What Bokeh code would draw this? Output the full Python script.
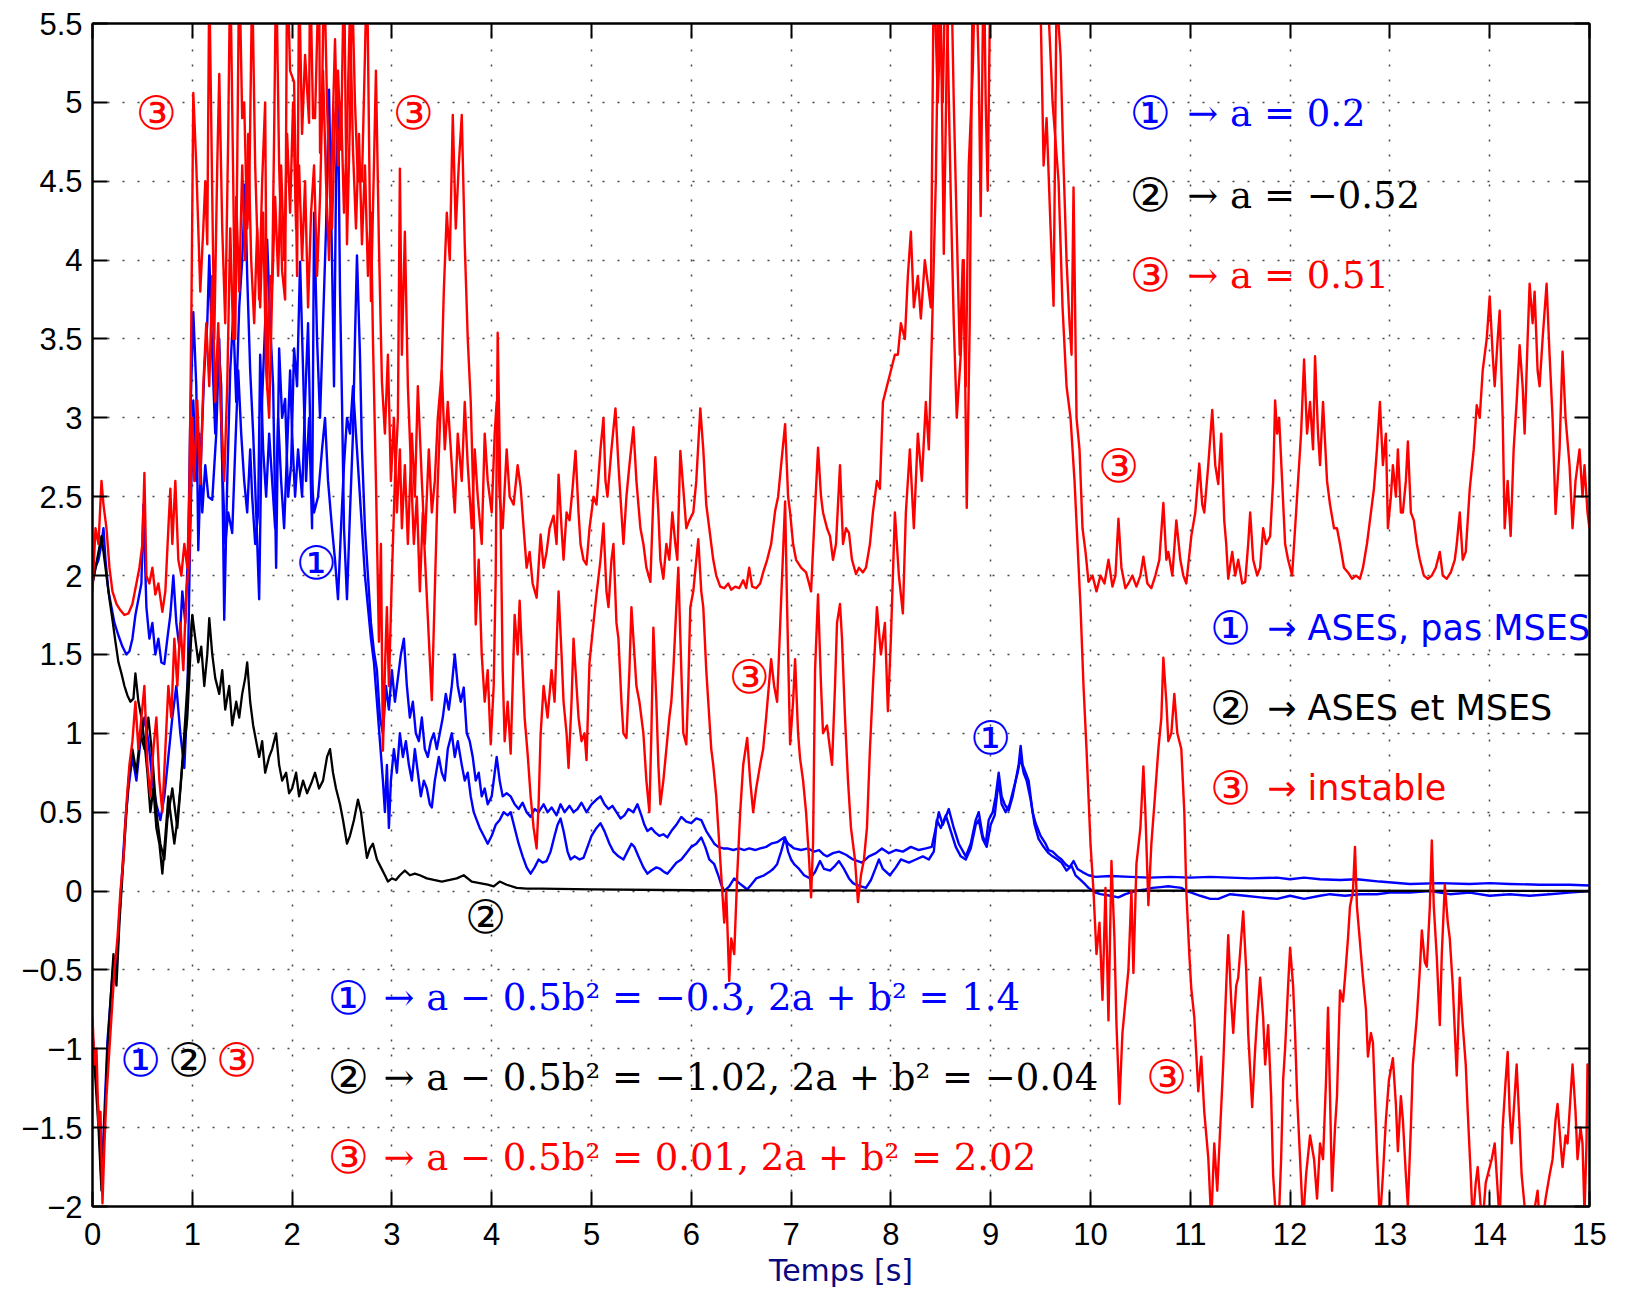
from bokeh.plotting import figure
from bokeh.models import Range1d, LinearAxis, Label, ColumnDataSource, FixedTicker
from bokeh.embed import file_html
from bokeh.resources import INLINE

# ---------------- data ----------------
x_ticks = [0, 1, 2, 3, 4, 5, 6, 7, 8, 9, 10, 11, 12, 13, 14, 15]
x_tick_labels = ["0", "1", "2", "3", "4", "5", "6", "7", "8", "9", "10", "11", "12", "13", "14", "15"]
y_ticks = [-2, -1.5, -1, -0.5, 0, 0.5, 1, 1.5, 2, 2.5, 3, 3.5, 4, 4.5, 5, 5.5]
y_tick_labels = ["\u22122", "\u22121.5", "\u22121", "\u22120.5", "0", "0.5", "1", "1.5", "2", "2.5",
                 "3", "3.5", "4", "4.5", "5", "5.5"]

# series 1 (blue), trajectory starting high
blue_a = [(0.00,1.95),(0.03,2.05),(0.06,2.1),(0.09,2.2),(0.11,2.3),(0.13,2.1),(0.16,1.9),(0.19,1.8),(0.22,1.7),
(0.26,1.62),(0.30,1.55),(0.34,1.5),(0.37,1.52),(0.40,1.6),(0.43,1.75),(0.46,1.85),(0.49,1.95),(0.51,2.45),(0.54,1.8),
(0.57,1.6),(0.60,1.7),(0.63,1.5),(0.66,1.6),(0.69,1.45),(0.72,1.44),(0.75,1.6),(0.78,1.75),(0.81,2.0),(0.84,1.7),
(0.87,1.55),(0.90,1.9),(0.93,1.7),(0.96,2.2),(0.98,3.0),(1.01,3.67),(1.04,3.2),(1.06,2.16),(1.09,2.8),(1.12,3.3),
(1.15,3.6),(1.17,4.03),(1.20,3.4),(1.23,2.9),(1.26,3.5),(1.29,3.2),(1.32,1.72),(1.35,2.6),(1.38,3.3),(1.41,3.65),
(1.44,3.1),(1.47,3.7),(1.50,4.0),(1.53,4.48),(1.55,3.9),(1.58,3.3),(1.61,2.9),(1.64,2.4),(1.67,1.85),(1.70,3.12),
(1.73,3.6),(1.75,4.13),(1.78,3.6),(1.81,3.2),(1.84,2.05),(1.87,3.44),(1.90,3.0),(1.93,3.12),(1.96,2.5),(1.99,2.7),
(2.02,3.44),(2.05,3.2),(2.08,3.99),(2.11,3.3),(2.14,2.6),(2.17,3.0),(2.20,2.3),(2.22,4.3),(2.25,3.5),(2.28,3.0),
(2.31,3.6),(2.34,4.2),(2.37,5.08),(2.40,4.0),(2.42,3.2),(2.44,4.5),(2.46,5.04),(2.48,3.8),(2.50,3.1),(2.52,2.3),
(2.55,1.85),(2.58,2.4),(2.61,2.9),(2.63,3.5),(2.65,4.03),(2.68,3.4),(2.70,2.8),(2.73,2.3),(2.76,2.0),(2.79,1.7),
(2.82,1.52),(2.85,1.4),(2.88,1.1),(2.91,1.0),(2.94,1.3),(2.97,1.15),(3.00,1.4),(3.03,1.2),(3.06,1.35),(3.09,1.5),
(3.12,1.6),(3.15,1.3),(3.18,1.1),(3.21,1.2),(3.24,1.0),(3.27,0.95),(3.30,1.1),(3.33,0.9),(3.36,0.85),(3.39,0.95),
(3.42,1.0),(3.45,0.9),(3.48,1.0),(3.51,1.1),(3.54,1.25),(3.57,1.15),(3.60,1.3),(3.63,1.5),(3.66,1.3),(3.69,1.2),
(3.72,1.29),(3.75,1.0),(3.78,0.95),(3.81,0.85),(3.84,0.7),(3.87,0.75),(3.90,0.6),(3.93,0.65),(3.96,0.55),(4.00,0.6),
(4.03,0.75),(4.05,0.85),(4.08,0.7),(4.11,0.6),(4.15,0.62),(4.19,0.6),(4.23,0.55),(4.27,0.52),(4.31,0.56),(4.35,0.5),
(4.39,0.47),(4.43,0.52),(4.47,0.5),(4.52,0.55),(4.56,0.5),(4.60,0.53),(4.65,0.48),(4.69,0.55),(4.73,0.5),(4.78,0.54),
(4.82,0.5),(4.86,0.52),(4.90,0.56),(4.95,0.5),(5.00,0.55),(5.05,0.58),(5.09,0.6),(5.13,0.55),(5.17,0.52),(5.21,0.54),
(5.25,0.5),(5.29,0.46),(5.33,0.48),(5.37,0.52),(5.42,0.5),(5.46,0.55),(5.50,0.48),(5.53,0.42),(5.56,0.38),(5.60,0.4),
(5.64,0.37),(5.68,0.35),(5.72,0.36),(5.76,0.34),(5.80,0.38),(5.85,0.42),(5.90,0.47),(5.95,0.44),(6.00,0.43),(6.05,0.46),
(6.10,0.45),(6.15,0.38),(6.20,0.33),(6.23,0.3),(6.27,0.28),(6.32,0.27),(6.36,0.27),(6.42,0.26),(6.48,0.27),(6.53,0.26),
(6.58,0.27),(6.64,0.26),(6.69,0.27),(6.75,0.28),(6.80,0.3),(6.86,0.31),(6.93,0.34),(6.97,0.3),(7.03,0.27),(7.10,0.26),
(7.17,0.27),(7.23,0.25),(7.28,0.26),(7.33,0.23),(7.36,0.22),(7.42,0.24),(7.48,0.25),(7.55,0.23),(7.62,0.2),(7.71,0.18),
(7.78,0.22),(7.85,0.24),(7.91,0.27),(7.98,0.24),(8.05,0.26),(8.12,0.25),(8.20,0.28),(8.28,0.26),(8.35,0.27),(8.41,0.28),
(8.45,0.4),(8.48,0.5),(8.52,0.42),(8.58,0.52),(8.63,0.4),(8.68,0.3),(8.75,0.22),(8.80,0.3),(8.85,0.45),(8.88,0.5),
(8.92,0.35),(8.95,0.3),(8.98,0.45),(9.02,0.5),(9.05,0.6),(9.08,0.75),(9.11,0.6),(9.14,0.55),(9.18,0.51),(9.22,0.6),
(9.25,0.7),(9.28,0.8),(9.30,0.92),(9.32,0.8),(9.35,0.75),(9.38,0.7),(9.42,0.5),(9.45,0.43),(9.50,0.35),(9.55,0.3),
(9.58,0.26),(9.62,0.25),(9.67,0.22),(9.71,0.2),(9.75,0.17),(9.79,0.15),(9.83,0.19),(9.87,0.14),(9.92,0.12),(9.98,0.1),
(10.05,0.09),(10.2,0.095),(10.4,0.09),(10.6,0.085),(10.8,0.09),(11.0,0.085),(11.2,0.09),(11.4,0.085),(11.6,0.08),
(11.87,0.085),(12.0,0.075),(12.14,0.085),(12.3,0.075),(12.5,0.07),(12.67,0.075),(12.9,0.06),(13.2,0.045),(13.5,0.05),
(13.8,0.045),(14.0,0.05),(14.2,0.045),(14.5,0.04),(14.8,0.04),(15.0,0.035)]

# series 1 (blue), trajectory starting low
blue_b = [(0.00,-0.9),(0.03,-1.15),(0.06,-1.4),(0.09,-1.85),(0.12,-1.4),(0.15,-0.95),(0.18,-0.7),(0.21,-0.45),
(0.24,-0.5),(0.27,-0.15),(0.30,0.15),(0.33,0.45),(0.36,0.65),(0.40,0.85),(0.44,0.7),(0.48,0.95),(0.52,1.1),(0.56,0.95),
(0.60,0.7),(0.64,0.55),(0.68,0.45),(0.72,0.6),(0.76,0.85),(0.80,1.1),(0.84,1.3),(0.88,1.0),(0.92,0.78),(0.95,1.2),
(0.98,2.3),(1.01,3.11),(1.04,2.6),(1.07,2.9),(1.10,2.4),(1.13,2.7),(1.16,2.5),(1.20,2.48),(1.24,2.9),(1.27,3.5),
(1.30,2.7),(1.33,2.2),(1.36,2.4),(1.40,2.27),(1.43,2.8),(1.46,3.3),(1.49,2.9),(1.52,2.6),(1.55,2.4),(1.58,2.8),
(1.60,2.5),(1.63,2.2),(1.66,2.4),(1.68,3.4),(1.71,2.8),(1.74,2.5),(1.77,2.9),(1.80,2.6),(1.83,2.3),(1.86,3.0),
(1.89,2.6),(1.92,2.3),(1.95,2.8),(1.98,3.3),(2.00,2.9),(2.03,2.5),(2.06,2.8),(2.10,2.5),(2.13,3.1),(2.16,3.6),
(2.19,2.7),(2.22,2.4),(2.26,2.5),(2.30,2.8),(2.33,3.0),(2.36,2.6),(2.40,2.3),(2.43,2.1),(2.46,1.85),(2.49,2.3),
(2.52,2.7),(2.55,3.0),(2.58,2.9),(2.61,3.2),(2.64,2.9),(2.67,2.6),(2.70,2.3),(2.73,2.0),(2.76,1.8),(2.79,1.6),
(2.82,1.45),(2.85,1.2),(2.88,0.95),(2.91,0.7),(2.93,0.5),(2.95,0.8),(2.97,0.4),(2.99,0.7),(3.02,0.9),(3.05,0.75),
(3.08,1.0),(3.11,0.85),(3.14,0.95),(3.17,0.8),(3.20,0.7),(3.23,0.9),(3.26,0.75),(3.29,0.6),(3.32,0.7),(3.35,0.65),
(3.38,0.55),(3.40,0.53),(3.43,0.7),(3.47,0.85),(3.50,0.75),(3.53,0.7),(3.56,0.9),(3.60,1.0),(3.63,0.85),(3.66,0.95),
(3.70,0.8),(3.73,0.7),(3.76,0.75),(3.79,0.6),(3.82,0.5),(3.85,0.45),(3.88,0.4),(3.92,0.35),(3.96,0.3),(4.00,0.35),
(4.04,0.42),(4.08,0.45),(4.12,0.5),(4.16,0.48),(4.19,0.5),(4.23,0.4),(4.27,0.3),(4.31,0.22),(4.35,0.15),(4.39,0.11),
(4.43,0.15),(4.47,0.2),(4.51,0.18),(4.55,0.19),(4.59,0.25),(4.63,0.35),(4.66,0.42),(4.69,0.46),(4.72,0.38),(4.76,0.25),
(4.79,0.2),(4.83,0.22),(4.88,0.2),(4.92,0.21),(4.96,0.28),(5.00,0.35),(5.05,0.4),(5.09,0.43),(5.13,0.38),(5.18,0.3),
(5.22,0.25),(5.27,0.22),(5.32,0.2),(5.36,0.25),(5.40,0.3),(5.43,0.28),(5.47,0.22),(5.52,0.15),(5.56,0.11),(5.60,0.13),
(5.65,0.15),(5.69,0.14),(5.73,0.12),(5.76,0.11),(5.80,0.14),(5.85,0.18),(5.90,0.2),(5.95,0.24),(6.00,0.28),(6.05,0.3),
(6.10,0.34),(6.14,0.28),(6.18,0.2),(6.23,0.17),(6.27,0.1),(6.30,0.04),(6.33,0.0),(6.38,0.03),(6.43,0.08),(6.48,0.05),
(6.52,0.03),(6.56,0.01),(6.60,0.04),(6.65,0.08),(6.69,0.09),(6.73,0.1),(6.78,0.12),(6.82,0.14),(6.86,0.17),(6.90,0.25),
(6.94,0.34),(6.97,0.25),(7.00,0.2),(7.03,0.17),(7.08,0.14),(7.13,0.1),(7.19,0.08),(7.24,0.12),(7.29,0.19),(7.33,0.14),
(7.39,0.13),(7.44,0.16),(7.48,0.19),(7.53,0.14),(7.58,0.08),(7.62,0.05),(7.65,0.04),(7.70,0.03),(7.75,0.02),(7.80,0.07),
(7.85,0.15),(7.88,0.2),(7.92,0.14),(7.99,0.1),(8.05,0.15),(8.10,0.2),(8.18,0.18),(8.25,0.2),(8.32,0.22),(8.38,0.2),
(8.43,0.25),(8.46,0.45),(8.50,0.4),(8.55,0.48),(8.60,0.38),(8.65,0.28),(8.70,0.22),(8.75,0.2),(8.80,0.27),(8.85,0.42),
(8.88,0.45),(8.92,0.33),(8.96,0.28),(9.00,0.42),(9.04,0.48),(9.08,0.7),(9.11,0.55),(9.15,0.5),(9.19,0.55),(9.23,0.65),
(9.27,0.75),(9.30,0.85),(9.33,0.75),(9.36,0.7),(9.40,0.58),(9.44,0.42),(9.48,0.33),(9.53,0.28),(9.58,0.24),(9.62,0.22),
(9.67,0.2),(9.71,0.18),(9.76,0.13),(9.81,0.16),(9.85,0.1),(9.90,0.07),(9.95,0.04),(9.98,0.02),(10.05,-0.01),(10.1,-0.02),
(10.2,-0.03),(10.28,-0.04),(10.35,-0.02),(10.45,0.0),(10.55,0.01),(10.62,0.02),(10.7,0.025),(10.78,0.03),(10.85,0.025),
(10.91,0.02),(10.96,0.0),(11.01,-0.01),(11.1,-0.03),(11.2,-0.05),(11.28,-0.05),(11.4,-0.02),(11.55,-0.03),(11.7,-0.04),
(11.87,-0.05),(12.0,-0.03),(12.14,-0.05),(12.3,-0.03),(12.4,-0.02),(12.55,-0.03),(12.7,-0.02),(12.87,-0.02),(13.0,-0.01),
(13.2,-0.01),(13.4,0.0),(13.6,-0.02),(13.8,-0.01),(14.0,-0.03),(14.2,-0.02),(14.4,-0.03),(14.6,-0.02),(14.8,-0.01),(15.0,0.0)]

# series 2 (black), trajectory starting high
black_a = [(0.00,1.95),(0.03,2.05),(0.06,2.15),(0.09,2.25),(0.11,2.15),(0.14,2.0),(0.17,1.85),(0.20,1.72),(0.23,1.58),
(0.26,1.45),(0.29,1.38),(0.32,1.3),(0.35,1.24),(0.38,1.2),(0.41,1.22),(0.43,1.38),(0.46,1.2),(0.49,1.1),(0.52,0.95),
(0.55,0.75),(0.58,0.5),(0.61,0.65),(0.64,0.4),(0.67,0.3),(0.70,0.11),(0.73,0.35),(0.76,0.6),(0.79,0.45),(0.82,0.3),
(0.85,0.45),(0.88,0.65),(0.91,0.9),(0.94,1.2),(0.97,1.5),(1.00,1.75),(1.03,1.6),(1.06,1.45),(1.09,1.55),(1.12,1.3),
(1.15,1.5),(1.17,1.73),(1.20,1.5),(1.23,1.35),(1.27,1.25),(1.30,1.4),(1.33,1.15),(1.37,1.3),(1.40,1.05),(1.44,1.2),
(1.47,1.1),(1.50,1.25),(1.53,1.35),(1.55,1.45),(1.58,1.2),(1.61,1.05),(1.64,0.95),(1.67,0.85),(1.70,0.95),(1.73,0.75),
(1.77,0.85),(1.80,0.9),(1.84,1.0),(1.87,0.8),(1.90,0.7),(1.94,0.75),(1.97,0.62),(2.00,0.65),(2.04,0.75),(2.07,0.6),
(2.11,0.7),(2.15,0.62),(2.19,0.68),(2.23,0.75),(2.27,0.65),(2.31,0.7),(2.35,0.85),(2.38,0.9),(2.41,0.75),(2.44,0.65),
(2.48,0.55),(2.51,0.45),(2.55,0.3),(2.58,0.35),(2.62,0.45),(2.66,0.58),(2.69,0.5),(2.72,0.35),(2.75,0.21),(2.78,0.27),
(2.81,0.3),(2.85,0.2),(2.89,0.15),(2.93,0.1),(2.96,0.06),(3.00,0.08),(3.04,0.07),(3.08,0.1),(3.13,0.13),(3.18,0.1),
(3.23,0.11),(3.28,0.1),(3.35,0.08),(3.42,0.07),(3.50,0.06),(3.58,0.07),(3.65,0.08),(3.72,0.1),(3.80,0.06),(3.88,0.05),
(3.96,0.04),(4.02,0.03),(4.08,0.06),(4.15,0.04),(4.25,0.02),(4.35,0.015),(4.5,0.015),(5.0,0.01),(6.0,0.005),(8.0,0.003),
(15.0,0.001)]

# series 2 (black), trajectory starting low
black_b = [(0.00,-0.95),(0.03,-1.2),(0.06,-1.5),(0.09,-1.9),(0.12,-1.5),(0.15,-1.0),(0.18,-0.7),(0.21,-0.4),(0.24,-0.6),
(0.27,-0.2),(0.30,0.1),(0.33,0.4),(0.36,0.7),(0.40,0.9),(0.44,0.75),(0.48,1.0),(0.52,0.9),(0.56,1.1),(0.60,0.85),
(0.64,0.5),(0.68,0.3),(0.72,0.2),(0.75,0.45),(0.80,0.65),(0.85,0.4),(0.90,0.8),(0.95,1.1),(1.00,1.75)]

# series 3 (red), trajectory starting high
red_a = [(0.00,1.90),(0.03,2.30),(0.06,2.20),(0.09,2.60),(0.11,2.45),(0.14,2.30),(0.17,2.05),(0.20,1.90),(0.24,1.82),
(0.28,1.78),(0.32,1.75),(0.36,1.76),(0.40,1.82),(0.44,1.95),(0.47,2.05),(0.50,2.20),(0.52,2.65),(0.54,2.00),(0.57,1.95),
(0.60,2.05),(0.63,1.88),(0.66,1.95),(0.70,1.77),(0.73,1.90),(0.76,2.30),(0.78,2.55),(0.80,2.20),(0.83,2.60),(0.86,2.10),
(0.89,2.00),(0.92,2.20),(0.95,2.05),(0.97,2.50),(0.99,3.60),(1.01,5.06),(1.04,4.60),(1.08,3.80),(1.11,4.20),(1.13,4.50),
(1.15,4.10),(1.17,5.8),(1.20,4.4),(1.22,3.50),(1.25,4.6),(1.27,5.18),(1.30,4.2),(1.33,3.6),(1.36,4.8),(1.38,5.9),
(1.41,4.5),(1.43,3.5),(1.45,4.6),(1.47,5.9),(1.50,4.9),(1.52,5.0),(1.55,4.2),(1.57,4.4),(1.60,5.8),(1.63,4.6),
(1.67,3.75),(1.70,4.5),(1.73,5.0),(1.75,3.18),(1.78,3.9),(1.80,3.85),(1.82,4.8),(1.84,5.9),(1.87,4.6),(1.90,3.93),
(1.93,3.75),(1.95,5.9),(1.98,5.2),(2.02,5.13),(2.05,3.9),(2.07,5.8),(2.10,4.8),(2.13,5.3),(2.17,4.87),(2.18,5.9),
(2.21,4.9),(2.23,4.9),(2.25,5.4),(2.27,5.9),(2.28,4.68),(2.30,5.0),(2.32,5.9),(2.35,5.0),(2.38,4.4),(2.40,4.2),
(2.43,4.9),(2.46,5.2),(2.49,4.7),(2.52,5.9),(2.55,4.1),(2.58,4.9),(2.60,5.8),(2.63,5.0),(2.66,4.5),(2.70,4.5),
(2.73,5.3),(2.75,5.9),(2.79,3.74),(2.82,4.6),(2.84,5.2),(2.87,4.1),(2.90,3.23),(2.93,2.9),(2.96,3.4),(2.99,2.6),
(3.02,3.0),(3.05,2.4),(3.08,2.8),(3.10,2.3),(3.13,2.7),(3.16,2.2),(3.20,2.9),(3.23,2.5),(3.26,3.2),(3.30,2.6),
(3.33,2.2),(3.37,2.8),(3.40,2.4),(3.43,2.6),(3.46,3.0),(3.50,3.3),(3.53,2.8),(3.56,3.1),(3.60,2.7),(3.63,2.4),
(3.66,2.9),(3.70,2.6),(3.73,3.1),(3.76,2.7),(3.80,2.3),(3.83,2.8),(3.86,2.5),(3.90,2.2),(3.93,2.9),(3.96,2.6),
(4.00,2.4),(4.03,2.9),(4.05,3.1),(4.08,2.5),(4.11,2.3),(4.15,2.8),(4.18,2.5),(4.22,2.45),(4.26,2.7),(4.29,2.56),
(4.32,2.3),(4.35,2.05),(4.38,2.15),(4.41,1.95),(4.45,1.86),(4.49,2.26),(4.52,2.05),(4.55,2.15),(4.58,2.3),(4.62,2.38),
(4.65,2.2),(4.67,2.64),(4.70,2.3),(4.72,2.1),(4.75,2.4),(4.78,2.35),(4.81,2.55),(4.84,2.79),(4.87,2.4),(4.89,2.2),
(4.92,2.1),(4.95,2.07),(4.98,2.3),(5.02,2.5),(5.05,2.45),(5.09,2.8),(5.12,3.0),(5.14,2.6),(5.16,2.5),(5.20,2.8),
(5.24,3.06),(5.27,2.7),(5.30,2.4),(5.32,2.2),(5.35,2.5),(5.38,2.7),(5.42,2.94),(5.45,2.6),(5.49,2.3),(5.52,2.2),
(5.55,2.05),(5.59,1.96),(5.62,2.5),(5.64,2.75),(5.67,2.4),(5.69,2.1),(5.72,1.98),(5.75,2.2),(5.78,2.1),(5.81,2.4),
(5.84,2.2),(5.86,2.1),(5.89,2.79),(5.92,2.55),(5.95,2.3),(5.98,2.35),(6.02,2.4),(6.05,2.6),(6.09,3.06),(6.12,2.8),
(6.15,2.45),(6.18,2.3),(6.22,2.1),(6.25,2.0),(6.29,1.93),(6.33,1.92),(6.37,1.95),(6.40,1.91),(6.44,1.93),(6.48,1.92),
(6.52,1.97),(6.55,1.92),(6.58,2.05),(6.61,1.93),(6.65,1.92),(6.69,1.95),(6.72,2.02),(6.76,2.1),(6.80,2.2),(6.84,2.41),
(6.87,2.5),(6.90,2.7),(6.94,2.96),(6.97,2.5),(6.99,2.4),(7.02,2.2),(7.05,2.1),(7.10,2.05),(7.15,2.02),(7.18,1.95),
(7.20,1.9),(7.23,2.3),(7.27,2.81),(7.30,2.5),(7.32,2.4),(7.36,2.3),(7.39,2.25),(7.42,2.1),(7.45,2.2),(7.49,2.7),
(7.52,2.2),(7.55,2.3),(7.58,2.27),(7.61,2.1),(7.65,2.01),(7.68,2.05),(7.72,2.02),(7.75,2.05),(7.79,2.2),(7.82,2.4),
(7.86,2.6),(7.89,2.55),(7.92,3.1),(7.96,3.2),(8.00,3.3),(8.04,3.4),(8.07,3.4),(8.10,3.6),(8.14,3.5),(8.17,3.9),
(8.20,4.18),(8.23,3.7),(8.27,3.9),(8.30,3.63),(8.34,4.0),(8.38,3.8),(8.40,3.7),(8.43,5.9),(8.47,5.0),(8.50,5.6),
(8.53,4.04),(8.56,5.3),(8.60,6.0),(8.63,5.0),(8.66,4.2),(8.69,3.4),(8.72,4.0),(8.75,3.2),(8.78,4.6),(8.82,5.2),
(8.85,6.0),(8.88,5.2),(8.90,4.28),(8.93,6.0),(8.95,5.0),(8.97,4.44),(9.00,6.0),(9.20,6.5),(9.45,6.2),(9.50,5.6),
(9.53,4.6),(9.56,4.9),(9.60,4.2),(9.63,3.71),(9.66,5.7),(9.70,5.3),(9.73,4.6),(9.76,4.0),(9.79,3.6),(9.81,3.4),
(9.83,4.46),(9.86,3.0),(9.89,2.8),(9.92,2.3),(9.95,2.15),(9.98,1.96),(10.02,2.0),(10.06,1.9),(10.10,2.0),(10.14,1.95),
(10.18,2.1),(10.22,1.93),(10.25,2.0),(10.28,2.36),(10.31,2.05),(10.35,1.92),(10.38,1.95),(10.42,2.0),(10.46,1.93),
(10.50,2.0),(10.53,2.12),(10.57,1.95),(10.61,1.92),(10.65,2.0),(10.69,2.1),(10.73,2.46),(10.76,2.1),(10.78,2.15),
(10.82,2.0),(10.86,2.35),(10.90,2.1),(10.93,2.0),(10.96,1.95),(11.01,2.25),(11.05,2.4),(11.09,2.71),(11.12,2.45),
(11.14,2.4),(11.18,2.7),(11.22,3.05),(11.25,2.7),(11.28,2.58),(11.31,2.9),(11.34,2.35),(11.36,2.2),(11.38,1.98),
(11.42,2.15),(11.45,2.0),(11.48,2.1),(11.52,1.95),(11.55,1.96),(11.58,2.2),(11.60,2.4),(11.63,2.1),(11.67,2.0),
(11.70,2.05),(11.73,2.3),(11.76,2.2),(11.80,2.25),(11.83,2.6),(11.85,3.11),(11.87,2.9),(11.89,3.0),(11.92,2.6),
(11.95,2.2),(11.98,2.1),(12.02,2.0),(12.05,2.3),(12.08,2.6),(12.11,2.9),(12.14,3.37),(12.17,2.9),(12.20,3.1),
(12.23,2.8),(12.25,3.39),(12.28,2.9),(12.30,2.7),(12.33,3.1),(12.37,2.6),(12.40,2.45),(12.44,2.3),(12.47,2.3),
(12.50,2.2),(12.54,2.05),(12.58,2.02),(12.62,1.98),(12.66,2.0),(12.70,1.98),(12.73,2.05),(12.77,2.2),(12.80,2.35),
(12.84,2.55),(12.87,2.8),(12.90,3.1),(12.93,2.7),(12.96,2.9),(12.98,2.3),(13.01,2.5),(13.03,2.7),(13.06,2.5),
(13.08,2.8),(13.11,2.4),(13.13,2.4),(13.16,2.6),(13.18,2.85),(13.21,2.4),(13.24,2.35),(13.27,2.2),(13.30,2.1),
(13.34,2.0),(13.38,1.98),(13.42,2.0),(13.46,2.05),(13.50,2.15),(13.53,2.0),(13.57,1.98),(13.61,2.02),(13.65,2.1),
(13.67,2.2),(13.70,2.4),(13.73,2.1),(13.76,2.15),(13.80,2.55),(13.84,2.8),(13.87,3.08),(13.90,3.0),(13.93,3.3),
(13.97,3.5),(14.00,3.77),(14.03,3.4),(14.05,3.2),(14.08,3.5),(14.10,3.68),(14.13,3.0),(14.15,2.3),(14.18,2.6),
(14.21,2.25),(14.24,2.8),(14.27,3.1),(14.30,3.46),(14.33,3.2),(14.35,2.9),(14.38,3.5),(14.40,3.85),(14.43,3.6),
(14.45,3.8),(14.48,3.3),(14.50,3.2),(14.53,3.5),(14.57,3.85),(14.60,3.4),(14.63,3.0),(14.66,2.39),(14.70,2.8),
(14.73,3.42),(14.76,3.0),(14.80,2.7),(14.83,2.3),(14.86,2.6),(14.90,2.8),(14.93,2.5),(14.95,2.7),(14.98,2.4),(15.00,2.3)]

# series 3 (red), trajectory starting low
red_b = [(0.00,-0.80),(0.02,-1.10),(0.04,-1.00),(0.06,-1.50),(0.08,-1.40),(0.10,-1.98),(0.12,-1.60),(0.14,-1.30),
(0.16,-1.10),(0.19,-0.80),(0.22,-0.50),(0.25,-0.30),(0.28,0.00),(0.31,0.20),(0.34,0.55),(0.37,0.80),(0.40,0.95),
(0.43,1.20),(0.46,0.90),(0.49,1.10),(0.52,1.30),(0.55,0.80),(0.58,0.60),(0.61,0.90),(0.64,1.10),(0.67,0.70),(0.70,0.50),
(0.73,0.90),(0.76,1.30),(0.79,1.10),(0.82,1.60),(0.85,1.30),(0.88,1.70),(0.91,1.40),(0.94,1.90),(0.97,2.10),(1.00,3.00),
(1.02,2.60),(1.05,3.11),(1.08,2.58),(1.11,3.20),(1.14,3.60),(1.17,3.20),(1.20,3.90),(1.23,3.10),(1.26,3.60),(1.29,3.00),
(1.32,2.60),(1.35,3.20),(1.38,4.20),(1.41,3.50),(1.44,4.40),(1.47,3.80),(1.50,4.60),(1.53,4.00),(1.56,4.80),(1.59,4.00),
(1.62,3.60),(1.65,4.20),(1.68,3.70),(1.71,4.30),(1.74,3.30),(1.77,3.00),(1.80,3.80),(1.83,4.40),(1.86,3.90),(1.89,4.60),
(1.92,4.00),(1.95,4.80),(1.98,4.30),(2.01,5.00),(2.04,4.20),(2.07,4.60),(2.10,4.00),(2.13,4.50),(2.16,3.70),(2.19,4.30),
(2.22,4.60),(2.25,3.90),(2.28,4.40),(2.31,5.20),(2.34,4.50),(2.37,4.00),(2.40,4.70),(2.43,5.40),(2.46,4.60),(2.49,5.00),
(2.52,4.30),(2.55,4.80),(2.58,5.60),(2.61,4.70),(2.64,4.20),(2.67,4.80),(2.70,4.10),(2.73,4.60),(2.76,3.90),(2.79,4.30),
(2.81,3.50),(2.84,2.60),(2.87,1.58),(2.89,2.20),(2.91,0.89),(2.93,1.40),(2.95,1.80),(2.97,1.30),(3.00,2.00),(3.03,2.60),
(3.06,3.00),(3.08,4.58),(3.10,3.40),(3.13,4.18),(3.16,3.20),(3.19,2.70),(3.22,2.20),(3.25,2.50),(3.28,1.90),(3.31,2.40),
(3.34,2.00),(3.37,1.60),(3.40,1.21),(3.43,1.90),(3.46,2.60),(3.49,3.10),(3.52,3.80),(3.55,4.30),(3.58,4.00),(3.61,4.92),
(3.64,4.20),(3.67,4.60),(3.70,4.92),(3.73,4.10),(3.76,3.50),(3.79,3.10),(3.82,2.40),(3.84,1.69),(3.87,2.10),(3.90,1.50),
(3.93,1.20),(3.96,1.40),(3.99,0.93),(4.02,1.30),(4.04,2.00),(4.06,3.54),(4.08,2.80),(4.11,1.40),(4.13,0.95),(4.16,1.20),
(4.19,0.87),(4.21,1.30),(4.23,1.75),(4.26,1.50),(4.28,1.84),(4.31,1.40),(4.33,1.10),(4.36,0.87),(4.39,0.60),(4.42,0.40),
(4.45,0.27),(4.47,0.55),(4.49,0.99),(4.52,1.30),(4.56,1.10),(4.60,1.40),(4.63,1.20),(4.67,1.90),(4.70,1.50),(4.72,1.20),
(4.75,1.00),(4.77,0.78),(4.80,1.20),(4.82,1.60),(4.85,1.30),(4.87,1.10),(4.90,0.95),(4.93,1.00),(4.95,0.83),(4.98,1.45),
(5.02,1.70),(5.05,1.88),(5.09,2.10),(5.12,2.33),(5.15,1.90),(5.17,1.80),(5.20,2.10),(5.22,2.20),(5.25,1.70),(5.27,1.60),
(5.30,1.20),(5.32,1.00),(5.35,0.97),(5.38,1.40),(5.40,1.80),(5.43,1.50),(5.45,1.30),(5.48,1.20),(5.52,1.00),(5.55,0.70),
(5.58,0.50),(5.60,1.00),(5.62,1.67),(5.65,1.20),(5.67,0.80),(5.69,0.55),(5.72,0.70),(5.75,0.90),(5.78,1.10),(5.80,1.20),
(5.82,1.40),(5.85,1.80),(5.87,2.05),(5.90,1.40),(5.92,1.00),(5.95,0.93),(5.97,1.30),(5.99,1.80),(6.02,1.90),(6.05,2.10),
(6.07,2.23),(6.10,1.90),(6.12,1.80),(6.15,1.40),(6.17,1.20),(6.20,0.90),(6.22,0.80),(6.25,0.60),(6.27,0.40),(6.30,0.10),
(6.33,-0.20),(6.35,0.00),(6.38,-0.57),(6.40,-0.30),(6.43,-0.40),(6.46,0.10),(6.49,0.50),(6.52,0.80),(6.56,0.97),(6.59,0.70),
(6.62,0.50),(6.65,0.65),(6.69,0.80),(6.72,0.90),(6.75,1.10),(6.80,1.47),(6.83,1.30),(6.86,1.20),(6.90,1.84),(6.94,2.47),
(6.96,1.80),(6.99,0.93),(7.02,1.20),(7.04,1.47),(7.07,1.00),(7.09,0.84),(7.12,0.70),(7.15,0.50),(7.18,0.20),(7.20,-0.04),
(7.22,0.30),(7.24,1.40),(7.27,1.88),(7.30,1.30),(7.32,1.00),(7.36,1.05),(7.39,0.90),(7.41,0.80),(7.44,1.30),(7.46,1.70),
(7.49,1.82),(7.51,1.60),(7.54,1.10),(7.57,0.70),(7.60,0.40),(7.64,0.20),(7.67,-0.07),(7.70,0.10),(7.73,0.20),(7.76,0.40),
(7.79,0.90),(7.82,1.30),(7.86,1.80),(7.90,1.50),(7.94,1.70),(7.97,1.14),(8.00,1.60),(8.04,2.40),(8.08,2.00),(8.12,1.76),
(8.15,2.40),(8.19,2.80),(8.23,2.30),(8.27,2.90),(8.31,2.60),(8.35,3.10),(8.38,2.80),(8.41,3.50),(8.45,4.50),(8.48,5.8),
(8.52,5.0),(8.55,6.0),(8.60,4.4),(8.63,3.6),(8.66,3.0),(8.70,3.4),(8.73,4.0),(8.76,2.43),(8.79,3.6),(8.82,5.9),(8.86,6.2),
(9.00,6.5),(9.30,6.4),(9.55,6.0),(9.62,5.0),(9.68,4.5),(9.72,3.7),(9.76,3.2),(9.80,3.0),(9.84,2.6),(9.87,2.2),(9.90,1.8),
(9.93,1.3),(9.96,0.9),(9.98,0.6),(10.00,0.3),(10.03,0.0),(10.06,-0.40),(10.09,-0.20),(10.12,-0.69),(10.15,0.02),
(10.18,-0.82),(10.21,0.19),(10.24,-0.30),(10.26,-0.84),(10.29,-1.35),(10.32,-0.90),(10.35,-0.70),(10.38,-0.50),
(10.41,0.00),(10.43,-0.52),(10.46,0.17),(10.50,0.40),(10.53,0.79),(10.55,0.50),(10.58,-0.09),(10.61,0.30),(10.64,0.55),
(10.68,0.90),(10.71,1.10),(10.73,1.48),(10.76,1.20),(10.78,0.95),(10.81,1.00),(10.84,1.25),(10.87,1.00),(10.91,0.90),
(10.94,0.50),(10.96,0.00),(10.99,-0.40),(11.01,-0.62),(11.04,-0.80),(11.08,-1.27),(11.11,-1.05),(11.14,-1.40),
(11.18,-1.69),(11.21,-2.10),(11.24,-1.60),(11.27,-1.90),(11.30,-1.50),(11.33,-1.10),(11.36,-0.60),(11.38,-0.28),
(11.41,-0.70),(11.43,-0.90),(11.46,-0.60),(11.48,-0.55),(11.51,-0.30),(11.53,-0.13),(11.56,-0.50),(11.58,-0.90),
(11.62,-1.37),(11.65,-1.00),(11.67,-0.80),(11.70,-0.55),(11.73,-0.80),(11.75,-1.10),(11.78,-0.85),(11.81,-1.30),
(11.83,-1.80),(11.86,-2.10),(11.88,-2.20),(11.91,-1.70),(11.93,-1.20),(11.95,-1.00),(11.98,-0.60),(12.00,-0.36),
(12.03,-0.60),(12.05,-0.90),(12.07,-1.30),(12.10,-1.70),(12.13,-2.10),(12.16,-1.80),(12.20,-1.55),(12.24,-1.70),
(12.27,-1.95),(12.30,-1.60),(12.33,-1.70),(12.36,-1.20),(12.38,-0.74),(12.40,-1.30),(12.42,-1.90),(12.45,-1.50),
(12.47,-1.30),(12.50,-0.63),(12.53,-0.70),(12.55,-0.55),(12.58,-0.30),(12.60,-0.10),(12.63,0.00),(12.65,0.28),
(12.67,-0.10),(12.69,-0.25),(12.71,-0.40),(12.73,-0.55),(12.76,-0.75),(12.78,-1.05),(12.81,-0.90),(12.83,-0.96),
(12.85,-1.30),(12.87,-1.65),(12.90,-2.10),(12.93,-1.80),(12.96,-1.45),(12.99,-1.20),(13.03,-1.06),(13.06,-1.35),
(13.08,-1.65),(13.11,-1.30),(13.13,-1.45),(13.16,-1.80),(13.18,-2.00),(13.21,-1.50),(13.23,-1.10),(13.27,-0.80),
(13.30,-0.50),(13.32,-0.25),(13.35,-0.45),(13.37,-0.48),(13.40,-0.10),(13.42,0.32),(13.44,-0.10),(13.47,-0.42),
(13.50,-0.85),(13.52,-0.40),(13.55,0.04),(13.58,-0.20),(13.60,-0.30),(13.63,-0.60),(13.67,-1.17),(13.70,-0.55),
(13.73,-0.85),(13.76,-1.10),(13.78,-1.40),(13.81,-1.80),(13.83,-2.10),(13.86,-1.85),(13.88,-1.75),(13.91,-2.00),
(13.93,-2.10),(13.96,-1.85),(13.98,-1.80),(14.02,-1.70),(14.05,-1.60),(14.08,-1.90),(14.10,-2.10),(14.13,-1.50),
(14.16,-1.20),(14.18,-1.02),(14.20,-1.40),(14.22,-1.60),(14.25,-1.30),(14.27,-1.10),(14.30,-1.50),(14.32,-1.80),
(14.35,-2.00),(14.37,-2.10),(14.40,-2.20),(14.44,-2.05),(14.48,-1.90),(14.50,-2.10),(14.53,-2.10),(14.56,-1.95),
(14.60,-1.80),(14.63,-1.70),(14.66,-1.45),(14.68,-1.35),(14.71,-1.60),(14.73,-1.75),(14.76,-1.55),(14.78,-1.60),
(14.81,-1.30),(14.83,-1.10),(14.86,-1.40),(14.88,-1.70),(14.91,-1.50),(14.93,-1.60),(14.95,-2.05),(14.97,-1.60),
(14.98,-1.10),(15.00,-1.17)]

BLUE = "#0000ff"
RED = "#ff0000"
BLACK = "#000000"
NAVY = "#0a0a80"

# ---------------- figure ----------------
p = figure(width=1634, height=1294, x_range=Range1d(0, 15), y_range=Range1d(-2, 5.5),
           output_backend="svg", toolbar_location=None,
           min_border_left=92, min_border_right=45, min_border_top=23, min_border_bottom=88)
p.background_fill_color = "white"
p.border_fill_color = "white"
p.outline_line_color = "black"
p.outline_line_width = 2

xaxis = p.below[0]
yaxis = p.left[0]
top_axis = LinearAxis()
right_axis = LinearAxis()
p.add_layout(top_axis, "above")
p.add_layout(right_axis, "right")

for ax, ticks in ((xaxis, x_ticks), (top_axis, x_ticks), (yaxis, y_ticks), (right_axis, y_ticks)):
    ax.ticker = FixedTicker(ticks=ticks)
    ax.major_tick_in = 15
    ax.major_tick_out = 0
    ax.minor_tick_line_color = None
    ax.axis_line_width = 2
    ax.axis_line_color = "black"
    ax.major_tick_line_width = 2
    ax.major_tick_line_color = "black"
    ax.major_label_text_font = "Liberation Sans"
    ax.major_label_text_font_size = "31px"
    ax.major_label_text_color = "black"

for ax in (top_axis, right_axis):
    ax.major_label_text_color = None
    ax.major_label_standoff = 0

xaxis.major_label_overrides = {t: s for t, s in zip(x_ticks, x_tick_labels)}
yaxis.major_label_overrides = {t: s for t, s in zip(y_ticks, y_tick_labels)}
xaxis.major_label_standoff = 16
yaxis.major_label_standoff = 10
xaxis.axis_label = "Temps [s]"
xaxis.axis_label_text_font = "DejaVu Sans"
xaxis.axis_label_text_font_style = "normal"
xaxis.axis_label_text_font_size = "30px"
xaxis.axis_label_text_color = NAVY
xaxis.axis_label_standoff = 5

for g, ticks in ((p.xgrid, x_ticks), (p.ygrid, y_ticks)):
    g.ticker = FixedTicker(ticks=ticks)
    g.grid_line_color = "#333333"
    g.grid_line_width = 1.5
    g.grid_line_dash = "2 13"
    g.grid_line_alpha = 0.9

def add_series(pairs, color, width=2.4):
    ts = [a for a, b in pairs]
    vs = [b for a, b in pairs]
    src = ColumnDataSource(dict(t=ts, v=vs))
    p.line(x="t", y="v", source=src, line_color=color, line_width=width, line_join="round")

add_series(blue_a, BLUE)
add_series(blue_b, BLUE)
add_series(black_a, BLACK, 2.3)
add_series(black_b, BLACK, 2.3)
add_series(red_a, RED)
add_series(red_b, RED)

# ---------------- annotations ----------------
CIRC_FONT = "DejaVu Sans"
CIRC_SIZE = "46px"

def circ(x, y, txt, color):
    p.add_layout(Label(x=x, y=y, x_units="data", y_units="data", text=txt,
                       text_font=CIRC_FONT, text_font_size=CIRC_SIZE, text_color=color,
                       text_align="center", text_baseline="middle"))

def txt(x, y, s, color, font, size):
    p.add_layout(Label(x=x, y=y, x_units="data", y_units="data", text=s,
                       text_font=font, text_font_size=size, text_color=color,
                       text_align="left", text_baseline="middle"))

# circled markers on curves
circ(0.641, 4.93, "\u2462", RED)
circ(3.216, 4.93, "\u2462", RED)
circ(2.244, 2.077, "\u2460", BLUE)
circ(3.938, -0.167, "\u2461", BLACK)
circ(6.583, 1.354, "\u2462", RED)
circ(8.998, 0.968, "\u2460", BLUE)
circ(10.281, 2.692, "\u2462", RED)
circ(10.762, -1.182, "\u2462", RED)
circ(0.481, -1.074, "\u2460", BLUE)
circ(0.962, -1.074, "\u2461", BLACK)
circ(1.443, -1.074, "\u2462", RED)

# top right block
MATH_FONT = "DejaVu Serif"
MATH_SIZE = "37px"
circ(10.601, 4.93, "\u2460", BLUE)
circ(10.601, 4.411, "\u2461", BLACK)
circ(10.601, 3.904, "\u2462", RED)
txt(10.97, 4.93, "\u2192 a = 0.2", BLUE, MATH_FONT, MATH_SIZE)
txt(10.97, 4.411, "\u2192 a = \u22120.52", BLACK, MATH_FONT, MATH_SIZE)
txt(10.97, 3.904, "\u2192 a = 0.51", RED, MATH_FONT, MATH_SIZE)

# middle right block
SANS_SIZE = "35px"
circ(11.403, 1.665, "\u2460", BLUE)
circ(11.403, 1.158, "\u2461", BLACK)
circ(11.403, 0.651, "\u2462", RED)
txt(11.77, 1.665, "\u2192 ASES, pas MSES", BLUE, "DejaVu Sans", SANS_SIZE)
txt(11.77, 1.158, "\u2192 ASES et MSES", BLACK, "DejaVu Sans", SANS_SIZE)
txt(11.77, 0.651, "\u2192 instable", RED, "DejaVu Sans", SANS_SIZE)

# bottom block
circ(2.565, -0.675, "\u2460", BLUE)
circ(2.565, -1.182, "\u2461", BLACK)
circ(2.565, -1.689, "\u2462", RED)
txt(2.916, -0.675, "\u2192 a \u2212 0.5b\u00b2 = \u22120.3, 2a + b\u00b2 = 1.4", BLUE, MATH_FONT, MATH_SIZE)
txt(2.916, -1.182, "\u2192 a \u2212 0.5b\u00b2 = \u22121.02, 2a + b\u00b2 = \u22120.04", BLACK, MATH_FONT, MATH_SIZE)
txt(2.916, -1.689, "\u2192 a \u2212 0.5b\u00b2 = 0.01, 2a + b\u00b2 = 2.02", RED, MATH_FONT, MATH_SIZE)

open("out.html", "w").write(file_html(p, INLINE))
